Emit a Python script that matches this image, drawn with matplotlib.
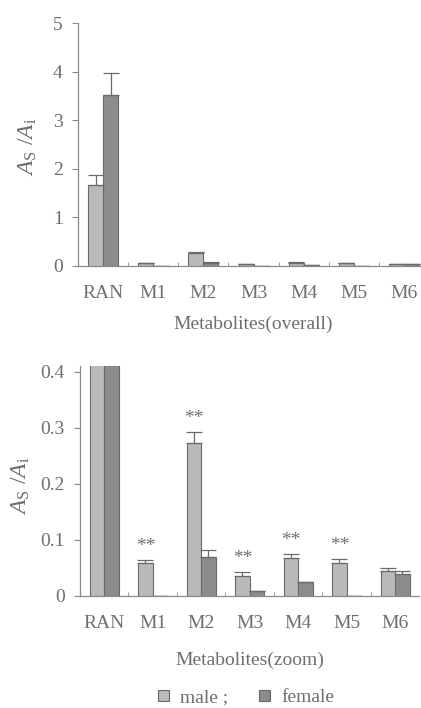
import numpy as np
import matplotlib
matplotlib.use('Agg')
import matplotlib.pyplot as plt
from matplotlib.patches import Patch
from matplotlib.ticker import FuncFormatter

categories = ['RAN', 'M1', 'M2', 'M3', 'M4', 'M5', 'M6']
male = [1.67, 0.058, 0.272, 0.035, 0.067, 0.058, 0.044]
male_err = [0.21, 0.005, 0.02, 0.007, 0.007, 0.007, 0.005]
female = [3.52, 0.0, 0.070, 0.008, 0.024, 0.0, 0.038]
female_err = [0.46, 0.0, 0.012, 0.0, 0.0, 0.0, 0.007]
signif = ['', '**', '**', '**', '**', '**', '']

plt.rcParams['font.family'] = ['Liberation Serif', 'DejaVu Serif']
plt.rcParams['mathtext.fontset'] = 'custom'
plt.rcParams['mathtext.rm'] = 'Liberation Serif'
plt.rcParams['mathtext.it'] = 'Liberation Serif:italic'
txt = '#6e6e6e'
axc = '#8a8a8a'
c_male = '#bababa'
c_female = '#8c8c8c'
edge = '#6a6a6a'

fig = plt.figure(figsize=(4.21, 7.08), dpi=100)
ax1 = fig.add_axes([0.1853, 0.6243, 0.834, 0.3432])
ax2 = fig.add_axes([0.19, 0.1586, 0.806, 0.3243])

x = np.arange(len(categories))
w = 0.3


def draw(ax, ylim, yticks, xlabel, ylab_x, ylab_y, xlab_y, stars=False):
    ax.bar(x - w / 2, male, w, color=c_male, edgecolor=edge, linewidth=0.8)
    ax.bar(x + w / 2, female, w, color=c_female, edgecolor=edge, linewidth=0.8)
    ax.errorbar(x - w / 2, male, yerr=[np.zeros(len(male)), male_err], fmt='none',
                ecolor=edge, elinewidth=0.9, capsize=6, capthick=0.9)
    ax.errorbar(x + w / 2, female, yerr=[np.zeros(len(female)), female_err], fmt='none',
                ecolor=edge, elinewidth=0.9, capsize=6, capthick=0.9)
    if stars:
        for i, s in enumerate(signif):
            if s:
                ax.text(x[i] - w / 2, male[i] + male_err[i] + 0.01, s, ha='center',
                        va='bottom', fontsize=14, color=txt)
    ax.set_xlim(-0.5, len(categories) - 0.5)
    ax.set_ylim(*ylim)
    ax.set_yticks(yticks)
    ax.yaxis.set_major_formatter(FuncFormatter(lambda v, p: '0' if v == 0 else f'{v:g}'))
    ax.set_xticks(x)
    ax.set_xticklabels(categories)
    ax.set_xticks(np.arange(0.5, len(categories) - 0.5, 1), minor=True)
    ax.tick_params(axis='x', which='major', length=0, pad=14, labelsize=14, labelcolor=txt)
    ax.tick_params(axis='x', which='minor', direction='in', length=3, color=axc)
    ax.tick_params(axis='y', direction='out', length=4, color=axc, labelsize=14,
                   labelcolor=txt, pad=7)
    for s in ['top', 'right']:
        ax.spines[s].set_visible(False)
    for s in ['left', 'bottom']:
        ax.spines[s].set_color(axc)
        ax.spines[s].set_linewidth(0.9)
    ax.set_ylabel(r'$A_{\mathrm{S}}\ /A_{\mathrm{i}}$', fontsize=17, color=txt)
    ax.yaxis.set_label_coords(ylab_x, ylab_y)
    ax.set_xlabel(xlabel, fontsize=14, color=txt)
    ax.xaxis.set_label_coords(0.5, xlab_y)


draw(ax1, (0, 5), [0, 1, 2, 3, 4, 5], 'Metabolites(overall)', -0.11, 0.49, -0.205)
draw(ax2, (0, 0.41), [0, 0.1, 0.2, 0.3, 0.4], 'Metabolites(zoom)', -0.14, 0.48, -0.245,
     stars=True)

handles = [Patch(facecolor=c_male, edgecolor=edge, linewidth=0.8),
           Patch(facecolor=c_female, edgecolor=edge, linewidth=0.8)]
leg = fig.legend(handles, ['male ;', 'female'], loc='center', ncol=2,
                 bbox_to_anchor=(0.585, 1 - 698 / 708), frameon=False,
                 handlelength=0.55, handleheight=0.55, handletextpad=0.6,
                 columnspacing=1.6, fontsize=14)
for t in leg.get_texts():
    t.set_color(txt)

fig.savefig('out.png', dpi=100)
